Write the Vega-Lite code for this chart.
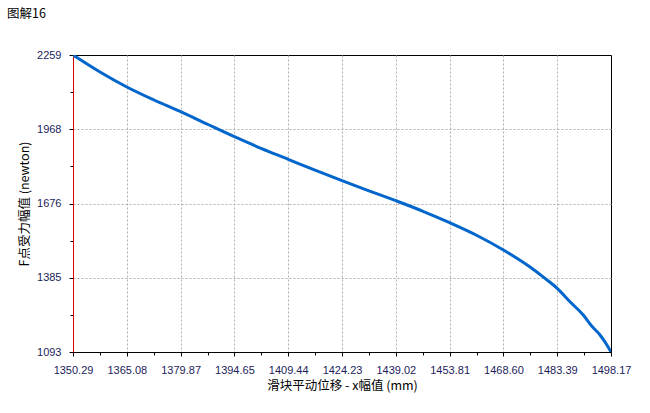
{
  "$schema": "https://vega.github.io/schema/vega-lite/v6.json",
  "width": 538,
  "height": 297,
  "autosize": {"type": "none"},
  "padding": {"left": 73, "top": 55, "right": 39, "bottom": 61},
  "background": "#ffffff",
  "title": {
    "text": "图解16",
    "anchor": "start",
    "frame": "group",
    "dx": -66,
    "offset": 29,
    "font": "Noto Sans CJK SC",
    "fontSize": 12.5,
    "fontWeight": "normal",
    "color": "#000000"
  },
  "config": {
    "view": {"stroke": "#000000", "strokeWidth": 1},
    "axis": {
      "labelFont": "Liberation Sans",
      "labelFontSize": 11,
      "labelColor": "#1c1c5c",
      "titleFont": "Noto Sans CJK SC",
      "titleFontSize": 12.5,
      "titleFontWeight": "normal",
      "titleColor": "#000000",
      "tickColor": "#000000",
      "gridColor": "#b0b0b0",
      "gridDash": [2, 2],
      "gridWidth": 1
    }
  },
  "data": {
    "values": [
      {"x": 1350.29, "y": 2259},
      {"x": 1357.71, "y": 2192.3},
      {"x": 1365.08, "y": 2133.4},
      {"x": 1372.55, "y": 2082.3},
      {"x": 1379.87, "y": 2036.4},
      {"x": 1387.4, "y": 1986.1},
      {"x": 1394.65, "y": 1938.2},
      {"x": 1401.97, "y": 1892.7},
      {"x": 1409.44, "y": 1849.5},
      {"x": 1416.81, "y": 1806.7},
      {"x": 1424.23, "y": 1765.5},
      {"x": 1431.65, "y": 1725.9},
      {"x": 1439.02, "y": 1687},
      {"x": 1446.5, "y": 1645.4},
      {"x": 1453.81, "y": 1600.6},
      {"x": 1461.34, "y": 1550.4},
      {"x": 1468.6, "y": 1493.4},
      {"x": 1475.91, "y": 1426.7},
      {"x": 1480.03, "y": 1382.3},
      {"x": 1483.39, "y": 1343.1},
      {"x": 1486.9, "y": 1290.5},
      {"x": 1490.55, "y": 1238.2},
      {"x": 1492.86, "y": 1195.1},
      {"x": 1495.15, "y": 1159.7},
      {"x": 1496.53, "y": 1132.2},
      {"x": 1498.17, "y": 1093}
    ]
  },
  "mark": {"type": "line", "color": "#0066cc", "strokeWidth": 3, "clip": true, "interpolate": "monotone"},
  "encoding": {
    "x": {
      "field": "x",
      "type": "quantitative",
      "scale": {"domain": [1350.29, 1498.17], "nice": false, "zero": false},
      "axis": {
        "title": "滑块平动位移 - x幅值 (mm)",
        "titlePadding": 4,
        "values": [1350.29, 1357.685, 1365.08, 1372.475, 1379.87, 1387.26, 1394.65, 1402.045, 1409.44, 1416.835, 1424.23, 1431.625, 1439.02, 1446.415, 1453.81, 1461.205, 1468.6, 1475.995, 1483.39, 1490.78, 1498.17],
        "labelExpr": "abs((datum.value-1350.29)/14.788 - round((datum.value-1350.29)/14.788)) < 0.2 ? format(datum.value, '.2f') : ''",
        "labelPadding": 8,
        "labelFlush": false,
        "labelOverlap": false,
        "domainColor": "#000000",
        "tickSize": {"condition": {"test": "abs((datum.value-1350.29)/14.788 - round((datum.value-1350.29)/14.788)) < 0.2", "value": 4}, "value": 3},
        "gridOpacity": {"condition": {"test": "abs((datum.value-1350.29)/14.788 - round((datum.value-1350.29)/14.788)) < 0.2 && datum.value > 1351 && datum.value < 1497", "value": 1}, "value": 0}
      }
    },
    "y": {
      "field": "y",
      "type": "quantitative",
      "scale": {"domain": [1093, 2259], "nice": false, "zero": false},
      "axis": {
        "title": "F点受力幅值 (newton)",
        "titlePadding": 5,
        "values": [1093, 1239, 1385, 1530.5, 1676, 1822, 1968, 2113.5, 2259],
        "labelExpr": "abs((datum.value-1093)/291.5 - round((datum.value-1093)/291.5)) < 0.2 ? format(datum.value, 'd') : ''",
        "labelPadding": 8,
        "labelFlush": false,
        "labelOverlap": false,
        "domainColor": "#e00000",
        "tickSize": {"condition": {"test": "abs((datum.value-1093)/291.5 - round((datum.value-1093)/291.5)) < 0.2", "value": 4}, "value": 3},
        "gridOpacity": {"condition": {"test": "abs((datum.value-1093)/291.5 - round((datum.value-1093)/291.5)) < 0.2 && datum.value > 1094 && datum.value < 2258", "value": 1}, "value": 0}
      }
    }
  }
}
